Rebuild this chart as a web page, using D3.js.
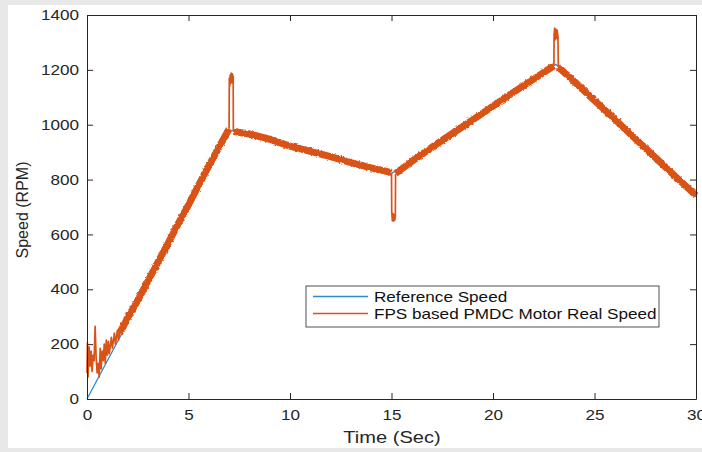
<!DOCTYPE html>
<html>
<head>
<meta charset="utf-8">
<script src="https://cdn.jsdelivr.net/npm/d3@7"></script>
<style>
  html, body { margin: 0; padding: 0; background: #e8e8e8; }
  svg { display: block; }
</style>
</head>
<body>
<svg id="chart" width="702" height="452"></svg>
<script>
// Reference speed profile (piecewise linear)
const refTime = [0, 7.05, 15.0, 23.1, 30];
const refSpeed = [0, 980, 822, 1220, 740];

// start-up oscillation and the three load transients (thin trace)
const startNoise = [
  [0.0, 95], [0.02, 205], [0.05, 80], [0.1, 190], [0.15, 120], [0.2, 175],
  [0.25, 100], [0.3, 160], [0.35, 140], [0.4, 265], [0.45, 150], [0.5, 95],
  [0.55, 130], [0.6, 80], [0.65, 185], [0.7, 110], [0.75, 175], [0.8, 140],
  [0.85, 200], [0.9, 130], [0.95, 215], [1.0, 160], [1.05, 210], [1.1, 165],
  [1.2, 225], [1.25, 185], [1.35, 240], [1.4, 200], [1.5, 250], [1.55, 215],
  [1.65, 255]
];
const spikeUp1 = [
  [7.0, 985], [7.01, 1170], [7.03, 1140], [7.05, 1180], [7.08, 1150],
  [7.1, 1188], [7.13, 1155], [7.16, 1185], [7.19, 1150], [7.2, 1178], [7.21, 975]
];
const dip15 = [
  [15.0, 825], [15.01, 685], [15.04, 650], [15.07, 676], [15.1, 648],
  [15.13, 672], [15.16, 652], [15.19, 668], [15.2, 820]
];
const spikeUp23 = [
  [23.0, 1215], [23.01, 1330], [23.04, 1352], [23.07, 1310], [23.1, 1348],
  [23.13, 1315], [23.16, 1345], [23.2, 1320], [23.22, 1210]
];
// steady tracking parts (thick noisy band)
const rampUp = [
  [1.6, 238], [2.0, 295], [2.5, 360], [3.0, 430], [3.5, 500], [4.0, 568],
  [4.5, 640], [5.0, 708], [5.5, 780], [6.0, 850], [6.5, 918], [7.0, 985]
];
const slowDown = [
  [7.22, 975], [8.0, 966], [9.0, 947], [10.0, 922], [11.0, 903], [12.0, 884],
  [13.0, 862], [14.0, 843], [15.0, 825]
];
const speedUp = [
  [15.2, 822], [16.0, 866], [17.0, 918], [18.0, 968], [19.0, 1018],
  [20.0, 1068], [21.0, 1118], [22.0, 1166], [23.0, 1215]
];
const rampDown = [
  [23.22, 1210], [24.0, 1158], [25.0, 1088], [26.0, 1020], [27.0, 950],
  [28.0, 880], [29.0, 810], [30.0, 742]
];

const xTicks = [0, 5, 10, 15, 20, 25, 30];
const yTicks = [0, 200, 400, 600, 800, 1000, 1200, 1400];
const legendLabels = ["Reference Speed", "FPS based PMDC Motor Real Speed"];

const COLORS = { ref: "#2f8ad0", real: "#d95319", axis: "#262626" };
const legendColors = [COLORS.ref, COLORS.real];
const FONT = "'Liberation Sans', Arial, Helvetica, sans-serif";
const STRETCH = 1.18; // picture is stretched horizontally

const svg = d3.select("#chart");

// rough edge for the noisy band
const filt = svg.append("defs").append("filter").attr("id", "rough")
  .attr("x", "-5%").attr("y", "-5%").attr("width", "110%").attr("height", "110%");
filt.append("feTurbulence").attr("type", "fractalNoise").attr("baseFrequency", 0.4)
  .attr("numOctaves", 2).attr("seed", 3).attr("result", "noise");
filt.append("feDisplacementMap").attr("in", "SourceGraphic").attr("in2", "noise")
  .attr("scale", 3).attr("xChannelSelector", "R").attr("yChannelSelector", "G");

// page / scan background
svg.append("rect").attr("x", 8).attr("y", 5).attr("width", 694).attr("height", 443).attr("fill", "#fff");

const x = d3.scaleLinear().domain([0, 30]).range([87, 696]);
const y = d3.scaleLinear().domain([0, 1400]).range([399, 15]);

function stretchText(sel) {
  sel.each(function () {
    let w = this.getComputedTextLength();
    d3.select(this).attr("textLength", w * STRETCH).attr("lengthAdjust", "spacingAndGlyphs");
  });
}

// data lines
const line = d3.line().x((d) => x(d[0])).y((d) => y(d[1]));
const refPoints = refTime.map((t, i) => [t, refSpeed[i]]);

svg.append("path")
  .datum(refPoints)
  .attr("d", line)
  .attr("fill", "none")
  .attr("stroke", COLORS.ref)
  .attr("stroke-width", 1.3);

[startNoise, spikeUp1, dip15, spikeUp23].forEach((run) => {
  svg.append("path")
    .datum(run)
    .attr("d", line)
    .attr("fill", "none")
    .attr("stroke", COLORS.real)
    .attr("stroke-width", 1.7)
    .attr("stroke-linejoin", "round");
});

const band = svg.append("g").attr("filter", "url(#rough)");
[rampUp, slowDown, speedUp, rampDown].forEach((run) => {
  band.append("path")
    .datum(run)
    .attr("d", line)
    .attr("fill", "none")
    .attr("stroke", COLORS.real)
    .attr("stroke-width", 7)
    .attr("stroke-linejoin", "round");
});

// axes (MATLAB style box with inward ticks)
const fmt = d3.format("d");
svg.append("g").attr("transform", "translate(0,399)")
  .call(d3.axisBottom(x).tickValues(xTicks).tickFormat(fmt).tickSize(-6).tickSizeOuter(0).tickPadding(11));
svg.append("g").attr("transform", "translate(87,0)")
  .call(d3.axisLeft(y).tickValues(yTicks).tickFormat(fmt).tickSize(-6).tickSizeOuter(0).tickPadding(8));
svg.append("g").attr("transform", "translate(0,15)")
  .call(d3.axisTop(x).tickValues(xTicks).tickSize(-6).tickSizeOuter(0).tickFormat(""));
svg.append("g").attr("transform", "translate(696,0)")
  .call(d3.axisRight(y).tickValues(yTicks).tickSize(-6).tickSizeOuter(0).tickFormat(""));

svg.selectAll(".domain, .tick line").attr("stroke", COLORS.axis);
svg.selectAll(".tick text")
  .attr("fill", COLORS.axis)
  .style("font-family", FONT)
  .style("font-size", "14.5px")
  .call(stretchText);

// axis titles
svg.append("text")
  .attr("x", 392).attr("y", 443)
  .attr("text-anchor", "middle")
  .attr("fill", COLORS.axis)
  .style("font-family", FONT).style("font-size", "17px")
  .text("Time (Sec)")
  .call(stretchText);

svg.append("text")
  .attr("transform", "translate(28,210) rotate(-90)")
  .attr("text-anchor", "middle")
  .attr("fill", COLORS.axis)
  .style("font-family", FONT).style("font-size", "16px")
  .text("Speed (RPM)");

// legend
const legend = svg.append("g").attr("transform", "translate(306,286)");
legend.append("rect")
  .attr("width", 353).attr("height", 41)
  .attr("fill", "#fff").attr("stroke", COLORS.axis).attr("stroke-width", 0.8);
legendLabels.forEach((label, i) => {
  const row = legend.append("g").attr("transform", `translate(0,${10.5 + i * 17})`);
  row.append("line")
    .attr("x1", 7).attr("x2", 62)
    .attr("stroke", legendColors[i])
    .attr("stroke-width", 1.4);
  row.append("text")
    .attr("x", 68).attr("y", 5)
    .attr("fill", "#111")
    .style("font-family", FONT).style("font-size", "14.5px")
    .text(label)
    .call(stretchText);
});
</script>
</body>
</html>
